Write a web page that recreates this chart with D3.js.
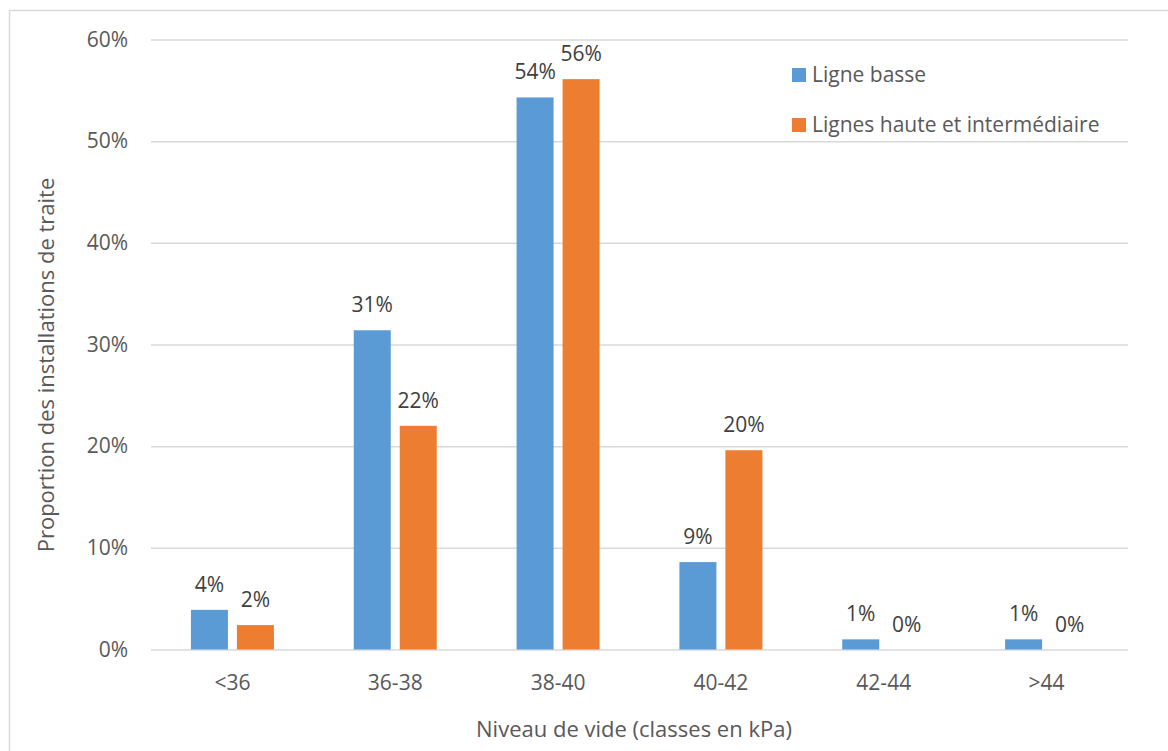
<!DOCTYPE html>
<html>
<head>
<meta charset="utf-8">
<script src="https://cdn.jsdelivr.net/npm/d3@7"></script>
<style>
  html, body { margin: 0; padding: 0; background: #fff; }
  svg { display: block; font-family: "Open Sans", Lato, sans-serif; }
</style>
</head>
<body>
<svg id="chart" width="1168" height="751"></svg>
<script>
// Vacuum level classes and share of milking installations per line type
const categories = ["<36", "36-38", "38-40", "40-42", "42-44", ">44"];
const seriesNames = ["Ligne basse", "Lignes haute et intermédiaire"];
const ligneBasse = [0.039, 0.314, 0.543, 0.086, 0.010, 0.010];
const lignesHautes = [0.024, 0.220, 0.561, 0.196, 0.000, 0.000];
const yTicks = [0, 0.1, 0.2, 0.3, 0.4, 0.5, 0.6];
const colors = ["#5b9bd5", "#ed7d31"];

const svg = d3.select("#chart");
const W = 1168, H = 751;
const plot = { left: 151, right: 1128, top: 39.5, bottom: 649.5 };
const fs = 21;

// outer chart frame
svg.append("rect")
  .attr("x", 9.5).attr("y", 10.5)
  .attr("width", W + 20).attr("height", H + 20)
  .attr("fill", "#fff").attr("stroke", "#d9d9d9").attr("stroke-width", 1.5);

const x = d3.scaleBand().domain(categories).range([plot.left, plot.right]);
const y = d3.scaleLinear().domain([0, 0.6]).range([plot.bottom, plot.top]);
const barW = 37, gap = 9;

// horizontal gridlines + y labels
const yAxis = d3.axisLeft(y).tickValues(yTicks).tickFormat(d3.format(".0%"))
  .tickSize(-(plot.right - plot.left)).tickPadding(23);
const gy = svg.append("g").attr("transform", `translate(${plot.left},0)`).call(yAxis);
gy.select(".domain").remove();
gy.selectAll(".tick line").attr("stroke", "#d9d9d9").attr("stroke-width", 1.5);
gy.selectAll(".tick text").attr("fill", "#595959").attr("font-size", fs)
  .attr("font-family", "'Open Sans', sans-serif");

// x axis labels
const xAxis = d3.axisBottom(x).tickSize(0).tickPadding(26);
const gx = svg.append("g").attr("transform", `translate(0,${plot.bottom})`).call(xAxis);
gx.select(".domain").remove();
gx.selectAll(".tick text").attr("fill", "#595959").attr("font-size", fs)
  .attr("font-family", "'Open Sans', sans-serif");

// bars with value labels
const series = [ligneBasse, lignesHautes];
series.forEach((vals, s) => {
  const offset = s === 0 ? -(barW + gap / 2) : gap / 2;
  const g = svg.append("g");
  g.selectAll("rect").data(vals).join("rect")
    .attr("x", (d, i) => x(categories[i]) + x.bandwidth() / 2 + offset)
    .attr("width", barW)
    .attr("y", d => y(d))
    .attr("height", d => y(0) - y(d))
    .attr("fill", colors[s]);
  g.selectAll("text").data(vals).join("text")
    .attr("x", (d, i) => x(categories[i]) + x.bandwidth() / 2 + offset + barW / 2)
    .attr("y", d => y(d) - 18)
    .attr("text-anchor", "middle")
    .attr("fill", "#404040").attr("font-size", fs)
    .text(d => d3.format(".0%")(d));
});

// legend
const legend = svg.append("g").attr("transform", "translate(792,68)");
seriesNames.forEach((name, i) => {
  const row = legend.append("g").attr("transform", `translate(0,${i * 50})`);
  row.append("rect").attr("width", 14).attr("height", 14).attr("fill", colors[i]);
  row.append("text").attr("x", 20).attr("y", 14)
    .attr("fill", "#595959").attr("font-size", fs).text(name);
});

// axis titles
svg.append("text")
  .attr("x", 634).attr("y", 737)
  .attr("text-anchor", "middle").attr("fill", "#595959").attr("font-size", 22)
  .text("Niveau de vide (classes en kPa)");
svg.append("text")
  .attr("transform", "translate(54,365) rotate(-90)")
  .attr("text-anchor", "middle").attr("fill", "#595959").attr("font-size", 22)
  .text("Proportion des installations de traite");
</script>
</body>
</html>
